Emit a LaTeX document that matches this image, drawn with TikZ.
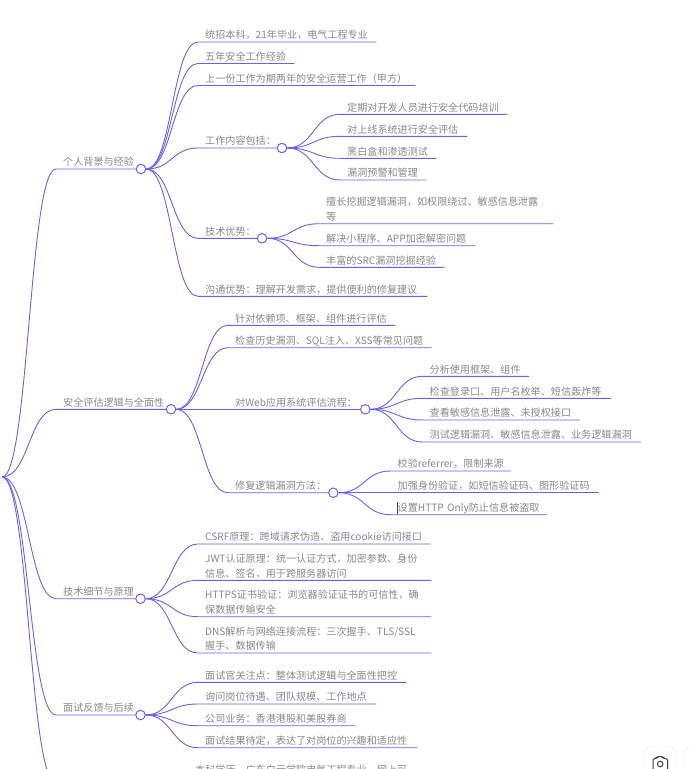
\documentclass[tikz,border=0pt]{standalone}
\usepackage{fontspec}
\setmainfont{Noto Sans CJK SC}
\usepackage{xcolor}
\usetikzlibrary{calc}
\definecolor{maplink}{RGB}{104,98,234}
\definecolor{maptext}{RGB}{136,136,140}
\definecolor{mapicon}{RGB}{60,60,60}
\definecolor{mapframe}{RGB}{236,236,238}
\tikzset{
  leaf/.style ={anchor=south west, text width=#1pt, align=left, inner xsep=7pt, inner ysep=0pt,
    text depth=3pt, text=maptext, font=\fontsize{10.1}{14.6}\selectfont},
  leafw/.style={leaf=#1, text depth=17.6pt},
  dot/.style  ={circle, draw=maplink, fill=white, line width=1pt, minimum size=9.5pt, inner sep=0pt},
  link/.style ={draw=maplink, line width=0.9pt,
    to path={.. controls ($(\tikztostart)!.5!(\tikztostart -| \tikztotarget)$)
      and ($(\tikztotarget)!.5!(\tikztotarget -| \tikztostart)$) .. (\tikztotarget)}},
}
\begin{document}
\begin{tikzpicture}[x=1pt,y=-1pt]
  \useasboundingbox (0,0) rectangle (693,769);
  \coordinate (root) at (2,477);
  \coordinate (last) at (56,783);

  \node[leaf=80] (bg) at (56,169) {个人背景与经验};
  \node[dot] (bgdot) at (141,169) {};
  \node[leaf=164] (bgdegree) at (198,42) {统招本科，21年毕业，电气工程专业};
  \node[leaf=82] (bgyears) at (198,63.5) {五年安全工作经验};
  \node[leaf=203] (bgjob) at (198,85.5) {上一份工作为期两年的安全运营工作（甲方）};
  \node[leaf=70] (bgwork) at (198,148) {工作内容包括：};
  \node[dot] (bgworkdot) at (282,148) {};
  \node[leaf=153] (worktrain) at (340,114.3) {定期对开发人员进行安全代码培训};
  \node[leaf=113] (workeval) at (340,136.3) {对上线系统进行安全评估};
  \node[leaf=82] (worktest) at (340,158.3) {黑白盒和渗透测试};
  \node[leaf=72] (workalert) at (340,180) {漏洞预警和管理};
  \node[leaf=50] (bgskill) at (198,238.3) {技术优势：};
  \node[dot] (bgskilldot) at (262,238.3) {};
  \node[leafw=220] (skilllogic) at (319,223.7) {擅长挖掘逻辑漏洞，如权限绕过、敏感信息泄露\\等};
  \node[leaf=142] (skillapp) at (319,245.7) {解决小程序、APP加密解密问题};
  \node[leaf=111] (skillsrc) at (319,267.3) {丰富的SRC漏洞挖掘经验};
  \node[leaf=215] (bgtalk) at (198,296.3) {沟通优势：理解开发需求，提供便利的修复建议};

  \draw[link] (root) to (bg.south west) -- (bgdot.west);
  \draw[link] (bgdot.east) to (bgdegree.south west) -- (bgdegree.south east);
  \draw[link] (bgdot.east) to (bgyears.south west) -- (bgyears.south east);
  \draw[link] (bgdot.east) to (bgjob.south west) -- (bgjob.south east);
  \draw[link] (bgdot.east) to (bgwork.south west) -- (bgworkdot.west);
  \draw[link] (bgworkdot.east) to (worktrain.south west) -- (worktrain.south east);
  \draw[link] (bgworkdot.east) to (workeval.south west) -- (workeval.south east);
  \draw[link] (bgworkdot.east) to (worktest.south west) -- (worktest.south east);
  \draw[link] (bgworkdot.east) to (workalert.south west) -- (workalert.south east);
  \draw[link] (bgdot.east) to (bgskill.south west) -- (bgskilldot.west);
  \draw[link] (bgskilldot.east) to (skilllogic.south west) -- (skilllogic.south east);
  \draw[link] (bgskilldot.east) to (skillapp.south west) -- (skillapp.south east);
  \draw[link] (bgskilldot.east) to (skillsrc.south west) -- (skillsrc.south east);
  \draw[link] (bgdot.east) to (bgtalk.south west) -- (bgtalk.south east);

  \node[leaf=110] (sec) at (56,409.3) {安全评估逻辑与全面性};
  \node[dot] (secdot) at (171,409.3) {};
  \node[leaf=153] (secdeps) at (228,325.3) {针对依赖项、框架、组件进行评估};
  \node[leaf=189] (sechist) at (228,347.7) {检查历史漏洞、SQL注入、XSS等常见问题};
  \node[leaf=120] (secweb) at (228,409.3) {对Web应用系统评估流程：};
  \node[dot] (secwebdot) at (365.3,409.3) {};
  \node[leaf=92] (webframe) at (422.5,376.3) {分析使用框架、组件};
  \node[leaf=174] (weblogin) at (422.5,398.3) {检查登录口、用户名枚举、短信轰炸等};
  \node[leaf=143] (webleak) at (422.5,420) {查看敏感信息泄露、未授权接口};
  \node[leaf=204] (webtest) at (422.5,442) {测试逻辑漏洞、敏感信息泄露、业务逻辑漏洞};
  \node[leaf=90] (secfix) at (228,492.7) {修复逻辑漏洞方法：};
  \node[dot] (secfixdot) at (333.3,492.7) {};
  \node[leaf=106] (fixref) at (390.5,471) {校验referrer，限制来源};
  \node[leaf=194] (fixauth) at (390.5,492.7) {加强身份验证，如短信验证码、图形验证码};
  \node[leaf=142] (fixhttp) at (390.5,514.7) {设置HTTP Only防止信息被盗取};

  \draw[link] (root) to (sec.south west) -- (secdot.west);
  \draw[link] (secdot.east) to (secdeps.south west) -- (secdeps.south east);
  \draw[link] (secdot.east) to (sechist.south west) -- (sechist.south east);
  \draw[link] (secdot.east) to (secweb.south west) -- (secwebdot.west);
  \draw[link] (secwebdot.east) to (webframe.south west) -- (webframe.south east);
  \draw[link] (secwebdot.east) to (weblogin.south west) -- (weblogin.south east);
  \draw[link] (secwebdot.east) to (webleak.south west) -- (webleak.south east);
  \draw[link] (secwebdot.east) to (webtest.south west) -- (webtest.south east);
  \draw[link] (secdot.east) to (secfix.south west) -- (secfixdot.west);
  \draw[link] (secfixdot.east) to (fixref.south west) -- (fixref.south east);
  \draw[link] (secfixdot.east) to (fixauth.south west) -- (fixauth.south east);
  \draw[link] (secfixdot.east) to (fixhttp.south west) -- (fixhttp.south east);
  \draw[mapicon, line width=0.6pt] (397.7,501.7) -- (397.7,514);

  \node[leaf=80] (tech) at (56,598.7) {技术细节与原理};
  \node[dot] (techdot) at (140.5,598.7) {};
  \node[leaf=218] (techcsrf) at (198,544) {CSRF原理：跨域请求伪造、盗用cookie访问接口};
  \node[leafw=219] (techjwt) at (198,580.3) {JWT认证原理：统一认证方式，加密参数、身份\\信息、签名，用于跨服务器访问};
  \node[leafw=219] (techhttps) at (198,616.7) {HTTPS证书验证：浏览器验证证书的可信性，确\\保数据传输安全};
  \node[leafw=219] (techdns) at (198,653) {DNS解析与网络连接流程：三次握手、TLS/SSL\\握手、数据传输};

  \draw[link] (root) to (tech.south west) -- (techdot.west);
  \draw[link] (techdot.east) to (techcsrf.south west) -- (techcsrf.south east);
  \draw[link] (techdot.east) to (techjwt.south west) -- (techjwt.south east);
  \draw[link] (techdot.east) to (techhttps.south west) -- (techhttps.south east);
  \draw[link] (techdot.east) to (techdns.south west) -- (techdns.south east);

  \node[leaf=80] (fb) at (56,715) {面试反馈与后续};
  \node[dot] (fbdot) at (140.5,715) {};
  \node[leaf=194] (fbfocus) at (198,682.3) {面试官关注点：整体测试逻辑与全面性把控};
  \node[leaf=164] (fbask) at (198,704) {询问岗位待遇、团队规模、工作地点};
  \node[leaf=143] (fbbiz) at (198,725.7) {公司业务：香港港股和美股券商};
  \node[leaf=205] (fbwait) at (198,747.7) {面试结果待定，表达了对岗位的兴趣和适应性};

  \draw[link] (root) to (fb.south west) -- (fbdot.west);
  \draw[link] (fbdot.east) to (fbfocus.south west) -- (fbfocus.south east);
  \draw[link] (fbdot.east) to (fbask.south west) -- (fbask.south east);
  \draw[link] (fbdot.east) to (fbbiz.south west) -- (fbbiz.south east);
  \draw[link] (fbdot.east) to (fbwait.south west) -- (fbwait.south east);

  \draw[link] (root) to (last);
  \node[leaf=214] (lastedu) at (188,777) {本科学历，广东白云学院电气工程专业，网上可};

  \draw[mapframe, rounded corners=6pt] (644,747) rectangle (676,785);
  \draw[mapframe, rounded corners=6pt] (684,747) rectangle (716,785);
  \draw[mapicon, line width=1pt, rounded corners=1.5pt]
    (653,758.5) -- (656.5,758.5) -- (657.5,756.5) -- (662.5,756.5) -- (663.5,758.5) -- (667.5,758.5) -- (667.5,772) -- (653,772) -- cycle;
  \draw[mapicon, line width=1pt] (660.2,764) circle (2.8);
\end{tikzpicture}
\end{document}
